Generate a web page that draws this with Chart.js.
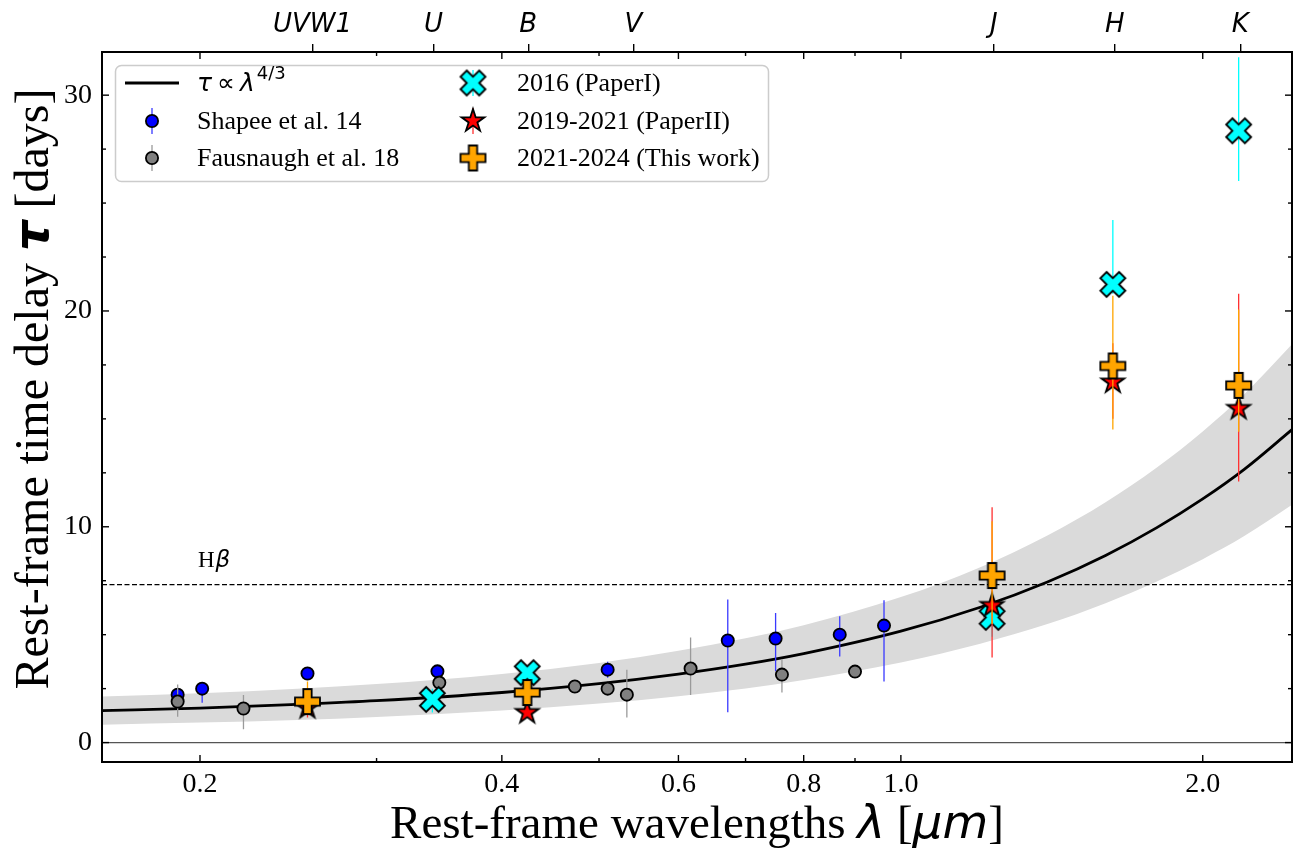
<!DOCTYPE html>
<html>
<head>
<meta charset="utf-8">
<script src="https://cdn.jsdelivr.net/npm/chart.js@4/dist/chart.umd.min.js"></script>
<style>
  html, body { margin: 0; padding: 0; background: #fff; }
  #c { display: block; }
</style>
</head>
<body>
<canvas id="c" width="1299" height="853"></canvas>
<script>
// axis range (rest-frame wavelength in micron, delay in days)
const xMin = 0.1597, xMax = 2.455;
const yMin = -0.9, yMax = 32;

const xMajor = [0.2, 0.4, 0.6, 0.8, 1.0, 2.0];
const xMinor = [0.3, 0.5, 0.7, 0.9];
const yMajor = [0, 10, 20, 30];
const yMinor = [2.5, 5, 7.5, 12.5, 15, 17.5, 22.5, 25, 27.5];

// photometric bands on top axis
const bandNames = ['UVW1', 'U', 'B', 'V', 'J', 'H', 'K'];
const bandLam = [0.259, 0.342, 0.425, 0.541, 1.238, 1.634, 2.18];

// tau ∝ lambda^4/3 fit and its shaded uncertainty
const curveLam = [0.1597, 0.2, 0.25, 0.3, 0.4, 0.5, 0.6, 0.7, 0.8, 1.0, 1.2, 1.4, 1.6, 1.8, 2.0, 2.2, 2.455];
const curveTau = [1.48, 1.60, 1.77, 1.94, 2.32, 2.73, 3.17, 3.63, 4.12, 5.16, 6.27, 7.44, 8.67, 9.96, 11.29, 12.66, 14.5];
const bandHigh = [2.13, 2.28, 2.49, 2.71, 3.18, 3.69, 4.25, 4.83, 5.44, 6.74, 8.13, 9.60, 11.14, 12.75, 14.42, 16.14, 18.46];
const bandLow  = [0.83, 0.93, 1.05, 1.19, 1.49, 1.81, 2.15, 2.51, 2.90, 3.71, 4.58, 5.49, 6.46, 7.46, 8.50, 9.57, 11.02];

// H-beta lag and zero reference
const hlineLam = [0.1597, 2.455];
const hbetaTau = 7.32;

// Shapee et al. 14
const shapeeLam = [0.190, 0.201, 0.256, 0.345, 0.510, 0.672, 0.750, 0.869, 0.962];
const shapeeTau = [2.22, 2.50, 3.20, 3.30, 3.38, 4.73, 4.82, 5.00, 5.42];
const shapeeLo  = [1.95, 1.85, 2.95, 3.05, 3.00, 1.40, 3.30, 3.99, 2.83];
const shapeeHi  = [2.45, 2.75, 3.45, 3.55, 3.75, 6.63, 6.00, 5.85, 6.60];

// Fausnaugh et al. 18
const fausLam = [0.190, 0.221, 0.3465, 0.473, 0.510, 0.533, 0.617, 0.761, 0.900];
const fausTau = [1.90, 1.58, 2.78, 2.60, 2.50, 2.22, 3.43, 3.15, 3.29];
const fausLo  = [1.20, 0.62, 2.50, 2.40, 2.30, 1.16, 2.20, 2.32, 3.05];
const fausHi  = [2.69, 2.20, 3.05, 2.80, 2.70, 3.38, 4.87, 3.85, 3.55];

// 2016 (PaperI)
const p1Lam = [0.341, 0.424, 1.233, 1.627, 2.172];
const p1Tau = [2.00, 3.24, 5.80, 21.23, 28.35];
const p1Lo  = [1.39, 3.00, 4.90, 20.80, 26.02];
const p1Hi  = [2.50, 3.50, 6.70, 24.21, 31.76];

// 2019-2021 (PaperII)
const p2Lam = [0.256, 0.424, 1.233, 1.627, 2.172];
const p2Tau = [1.62, 1.39, 6.35, 16.70, 15.48];
const p2Lo  = [1.16, 1.20, 3.94, 15.00, 12.10];
const p2Hi  = [2.00, 1.60, 10.90, 18.50, 20.80];

// 2021-2024 (This work)
const p3Lam = [0.256, 0.424, 1.233, 1.627, 2.172];
const p3Tau = [1.90, 2.32, 7.74, 17.45, 16.55];
const p3Lo  = [1.50, 2.00, 5.50, 14.51, 14.40];
const p3Hi  = [2.83, 2.60, 10.26, 20.70, 20.07];

const SERIF = '"Liberation Serif", "Times New Roman", serif';
const SANS = '"DejaVu Sans", sans-serif';

function pts(xs, ys) { return xs.map((x, i) => ({ x: x, y: ys[i] })); }
function errSegs(xs, lo, hi) {
    const out = [];
    xs.forEach((x, i) => { out.push({ x: x, y: lo[i] }, { x: x, y: hi[i] }, { x: x, y: null }); });
    return out;
}

// filled markers like matplotlib 'X', 'P' and '*'
function makeMarker(kind, size, fill, lw) {
    const dim = Math.ceil(size + lw * 2 + 2);
    const c = document.createElement('canvas');
    c.width = dim; c.height = dim;
    const g = c.getContext('2d');
    g.translate(dim / 2, dim / 2);
    let p;
    if (kind === 'plus') {
        p = [[-1,-3],[-1,-1],[-3,-1],[-3,1],[-1,1],[-1,3],[1,3],[1,1],[3,1],[3,-1],[1,-1],[1,-3]]
            .map(q => [q[0] * size / 6, q[1] * size / 6]);
    } else if (kind === 'x') {
        p = [[-1,-2],[0,-1],[1,-2],[2,-1],[1,0],[2,1],[1,2],[0,1],[-1,2],[-2,1],[-1,0],[-2,-1]]
            .map(q => [q[0] * size / 4, q[1] * size / 4]);
    } else {
        p = [];
        for (let k = 0; k < 10; k++) {
            const r = (k % 2 ? 0.381966 : 1) * size / 2;
            const a = -Math.PI / 2 + k * Math.PI / 5;
            p.push([r * Math.cos(a), r * Math.sin(a)]);
        }
    }
    g.beginPath();
    p.forEach((q, i) => i ? g.lineTo(q[0], q[1]) : g.moveTo(q[0], q[1]));
    g.closePath();
    g.fillStyle = fill;
    g.fill();
    g.lineWidth = lw;
    g.lineJoin = 'miter';
    g.strokeStyle = '#000';
    g.stroke();
    return c;
}

const mkX = makeMarker('x', 25, '#00ffff', 1.8);
const mkStar = makeMarker('star', 24, '#ff0000', 1.8);
const mkPlus = makeMarker('plus', 25, '#ffa500', 1.8);

const errBlue = '#3a3aff';
const errGray = '#9a9a9a';
const errCyan = '#00ffff';
const errRed = '#ff3030';
const errOrange = '#ffa500';

function errSet(xs, lo, hi, color, order) {
    return { data: errSegs(xs, lo, hi), showLine: true, borderColor: color, borderWidth: 1.3,
             pointRadius: 0, spanGaps: false, order: order };
}

function drawParts(ctx, parts, cx, y) {
    let w = 0;
    parts.forEach(p => { ctx.font = p.f; p.w = ctx.measureText(p.t).width; w += p.w; });
    let x = cx - w / 2;
    parts.forEach(p => { ctx.font = p.f; ctx.fillText(p.t, x, y); x += p.w; });
}

function drawLegend(ctx) {
    ctx.save();
    const bx = 115.5, by = 65.5, bw = 653, bh = 116, r = 6;
    ctx.beginPath();
    ctx.moveTo(bx + r, by);
    ctx.arcTo(bx + bw, by, bx + bw, by + bh, r);
    ctx.arcTo(bx + bw, by + bh, bx, by + bh, r);
    ctx.arcTo(bx, by + bh, bx, by, r);
    ctx.arcTo(bx, by, bx + bw, by, r);
    ctx.closePath();
    ctx.fillStyle = 'rgba(255,255,255,0.85)';
    ctx.fill();
    ctx.strokeStyle = '#cccccc';
    ctx.lineWidth = 1.5;
    ctx.stroke();

    const rows = [83, 121, 158];
    const m1 = 152, t1 = 197, m2 = 473, t2 = 517;

    // fit line
    ctx.strokeStyle = '#000';
    ctx.lineWidth = 2.8;
    ctx.beginPath(); ctx.moveTo(125, rows[0]); ctx.lineTo(179, rows[0]); ctx.stroke();

    const stub = (x, y, col) => {
        ctx.strokeStyle = col; ctx.lineWidth = 1.3;
        ctx.beginPath(); ctx.moveTo(x, y - 13); ctx.lineTo(x, y + 13); ctx.stroke();
    };
    const circ = (x, y, col) => {
        ctx.beginPath(); ctx.arc(x, y, 6.1, 0, Math.PI * 2);
        ctx.fillStyle = col; ctx.fill();
        ctx.strokeStyle = '#000'; ctx.lineWidth = 1.8; ctx.stroke();
    };
    stub(m1, rows[1], errBlue); circ(m1, rows[1], '#0000ff');
    stub(m1, rows[2], errGray); circ(m1, rows[2], '#808080');
    const img = (im, x, y) => ctx.drawImage(im, x - im.width / 2, y - im.height / 2);
    stub(m2, rows[0], errCyan); img(mkX, m2, rows[0]);
    stub(m2, rows[1], errRed); img(mkStar, m2, rows[1]);
    stub(m2, rows[2], errOrange); img(mkPlus, m2, rows[2]);

    ctx.fillStyle = '#000';
    ctx.textBaseline = 'middle';
    ctx.textAlign = 'left';
    // tau ∝ lambda^{4/3}
    let x = t1;
    ctx.font = 'italic 25px ' + SANS;
    ctx.fillText('τ', x, rows[0] + 1); x += ctx.measureText('τ').width + 5;
    ctx.font = '25px ' + SANS;
    ctx.fillText('∝', x, rows[0] + 1); x += ctx.measureText('∝').width + 5;
    ctx.font = 'italic 25px ' + SANS;
    ctx.fillText('λ', x, rows[0] + 1); x += ctx.measureText('λ').width + 2;
    ctx.font = '18px ' + SANS;
    ctx.fillText('4/3', x, rows[0] - 9);

    ctx.font = '26px ' + SERIF;
    ctx.fillText('Shapee et al. 14', t1, rows[1] + 1);
    ctx.fillText('Fausnaugh et al. 18', t1, rows[2] + 1);
    ctx.fillText('2016 (PaperI)', t2, rows[0] + 1);
    ctx.fillText('2019-2021 (PaperII)', t2, rows[1] + 1);
    ctx.fillText('2021-2024 (This work)', t2, rows[2] + 1);
    ctx.restore();
}

const framePlugin = {
    id: 'frame',
    afterDraw(chart) {
        const { ctx, chartArea: a, scales } = chart;
        ctx.save();
        ctx.strokeStyle = '#000';
        const tick = (x1, y1, x2, y2) => { ctx.beginPath(); ctx.moveTo(x1, y1); ctx.lineTo(x2, y2); ctx.stroke(); };
        ctx.lineWidth = 1.4;
        xMajor.forEach(v => { const p = scales.x.getPixelForValue(v); tick(p, a.bottom, p, a.bottom - 7); tick(p, a.top, p, a.top + 7); });
        xMinor.forEach(v => { const p = scales.x.getPixelForValue(v); tick(p, a.bottom, p, a.bottom - 4); tick(p, a.top, p, a.top + 4); });
        yMajor.forEach(v => { const p = scales.y.getPixelForValue(v); tick(a.left, p, a.left + 7, p); tick(a.right, p, a.right - 7, p); });
        yMinor.forEach(v => { const p = scales.y.getPixelForValue(v); tick(a.left, p, a.left + 4, p); tick(a.right, p, a.right - 4, p); });
        ctx.lineWidth = 2;
        ctx.strokeRect(a.left, a.top, a.right - a.left, a.bottom - a.top);

        // H-beta label
        ctx.fillStyle = '#000';
        ctx.textBaseline = 'alphabetic';
        ctx.textAlign = 'left';
        ctx.font = '23px ' + SERIF;
        ctx.fillText('H', 198, 567);
        const hw = ctx.measureText('H').width;
        ctx.font = 'italic 23px ' + SANS;
        ctx.fillText('β', 198 + hw + 1, 567);

        drawLegend(ctx);

        // axis titles
        ctx.fillStyle = '#000';
        ctx.textBaseline = 'alphabetic';
        ctx.textAlign = 'left';
        const fx = 47, fy = 48;
        drawParts(ctx, [
            { t: 'Rest-frame wavelengths ', f: fx + 'px ' + SERIF },
            { t: 'λ', f: 'italic ' + fx + 'px ' + SANS },
            { t: ' [', f: fx + 'px ' + SERIF },
            { t: 'μm', f: 'italic ' + fx + 'px ' + SANS },
            { t: ']', f: fx + 'px ' + SERIF }
        ], 697, 838);

        ctx.save();
        ctx.translate(48, 389);
        ctx.rotate(-Math.PI / 2);
        drawParts(ctx, [
            { t: 'Rest-frame time delay ', f: fy + 'px ' + SERIF },
            { t: 'τ', f: 'italic bold ' + fy + 'px ' + SANS },
            { t: ' [days]', f: fy + 'px ' + SERIF }
        ], 0, 0);
        ctx.restore();
        ctx.restore();
    }
};

// keep the plot box fixed: no automatic label padding on the x axes
function noPad(s, h) {
    s.height = h;
    s.paddingLeft = 0;
    s.paddingRight = 0;
}

new Chart(document.getElementById('c'), {
    type: 'scatter',
    data: {
        datasets: [
            { data: pts(curveLam, bandLow), showLine: true, borderWidth: 0, pointRadius: 0,
              cubicInterpolationMode: 'monotone', fill: false, order: 31 },
            { data: pts(curveLam, bandHigh), showLine: true, borderWidth: 0, pointRadius: 0,
              cubicInterpolationMode: 'monotone', fill: '-1', backgroundColor: '#dadada', order: 30 },
            { data: pts(hlineLam, [0, 0]), showLine: true, borderColor: '#555', borderWidth: 1.1, pointRadius: 0, order: 29 },
            { data: pts(hlineLam, [hbetaTau, hbetaTau]), showLine: true, borderColor: '#000', borderWidth: 1.3,
              borderDash: [5, 2.5], pointRadius: 0, order: 28 },
            { data: pts(curveLam, curveTau), showLine: true, borderColor: '#000', borderWidth: 2.8,
              pointRadius: 0, cubicInterpolationMode: 'monotone', order: 27 },

            errSet(shapeeLam, shapeeLo, shapeeHi, errBlue, 12),
            { data: pts(shapeeLam, shapeeTau), pointRadius: 6.1, pointBackgroundColor: '#0000ff',
              pointBorderColor: '#000', pointBorderWidth: 1.8, order: 11 },
            errSet(fausLam, fausLo, fausHi, errGray, 10),
            { data: pts(fausLam, fausTau), pointRadius: 6.1, pointBackgroundColor: '#808080',
              pointBorderColor: '#000', pointBorderWidth: 1.8, order: 9 },
            errSet(p1Lam, p1Lo, p1Hi, errCyan, 8),
            { data: pts(p1Lam, p1Tau), pointStyle: mkX, pointRadius: 12, order: 7 },
            errSet(p2Lam, p2Lo, p2Hi, errRed, 6),
            { data: pts(p2Lam, p2Tau), pointStyle: mkStar, pointRadius: 12, order: 5 },
            errSet(p3Lam, p3Lo, p3Hi, errOrange, 4),
            { data: pts(p3Lam, p3Tau), pointStyle: mkPlus, pointRadius: 12, order: 3 }
        ]
    },
    options: {
        responsive: false,
        animation: false,
        events: [],
        layout: { autoPadding: false, padding: { left: 0, right: 7, top: 0, bottom: 0 } },
        plugins: { legend: { display: false }, tooltip: { enabled: false } },
        scales: {
            x: {
                type: 'logarithmic', position: 'bottom', min: xMin, max: xMax,
                grid: { display: false, drawTicks: false },
                border: { display: false },
                afterBuildTicks: s => { s.ticks = xMajor.map(v => ({ value: v })); },
                ticks: { callback: v => Number(v).toFixed(1), font: { family: SERIF, size: 28 }, color: '#000',
                         padding: 6, autoSkip: false, maxRotation: 0, minRotation: 0 },
                afterFit: s => noPad(s, 91)
            },
            xTop: {
                type: 'logarithmic', position: 'top', min: xMin, max: xMax,
                grid: { display: true, drawOnChartArea: false, drawTicks: true, tickLength: 8,
                        color: '#000', lineWidth: 1.4 },
                border: { display: false },
                afterBuildTicks: s => { s.ticks = bandLam.map(v => ({ value: v })); },
                ticks: { callback: (v, i) => bandNames[i], font: { family: SANS, size: 26, style: 'italic' },
                         color: '#000', padding: 3, autoSkip: false, maxRotation: 0, minRotation: 0 },
                afterFit: s => noPad(s, 52)
            },
            y: {
                type: 'linear', position: 'left', min: yMin, max: yMax,
                grid: { display: false, drawTicks: false },
                border: { display: false },
                afterBuildTicks: s => { s.ticks = yMajor.map(v => ({ value: v })); },
                ticks: { callback: v => String(v), font: { family: SERIF, size: 28 }, color: '#000', padding: 10 },
                afterFit: s => { s.width = 102; }
            }
        }
    },
    plugins: [framePlugin]
});
</script>
</body>
</html>
